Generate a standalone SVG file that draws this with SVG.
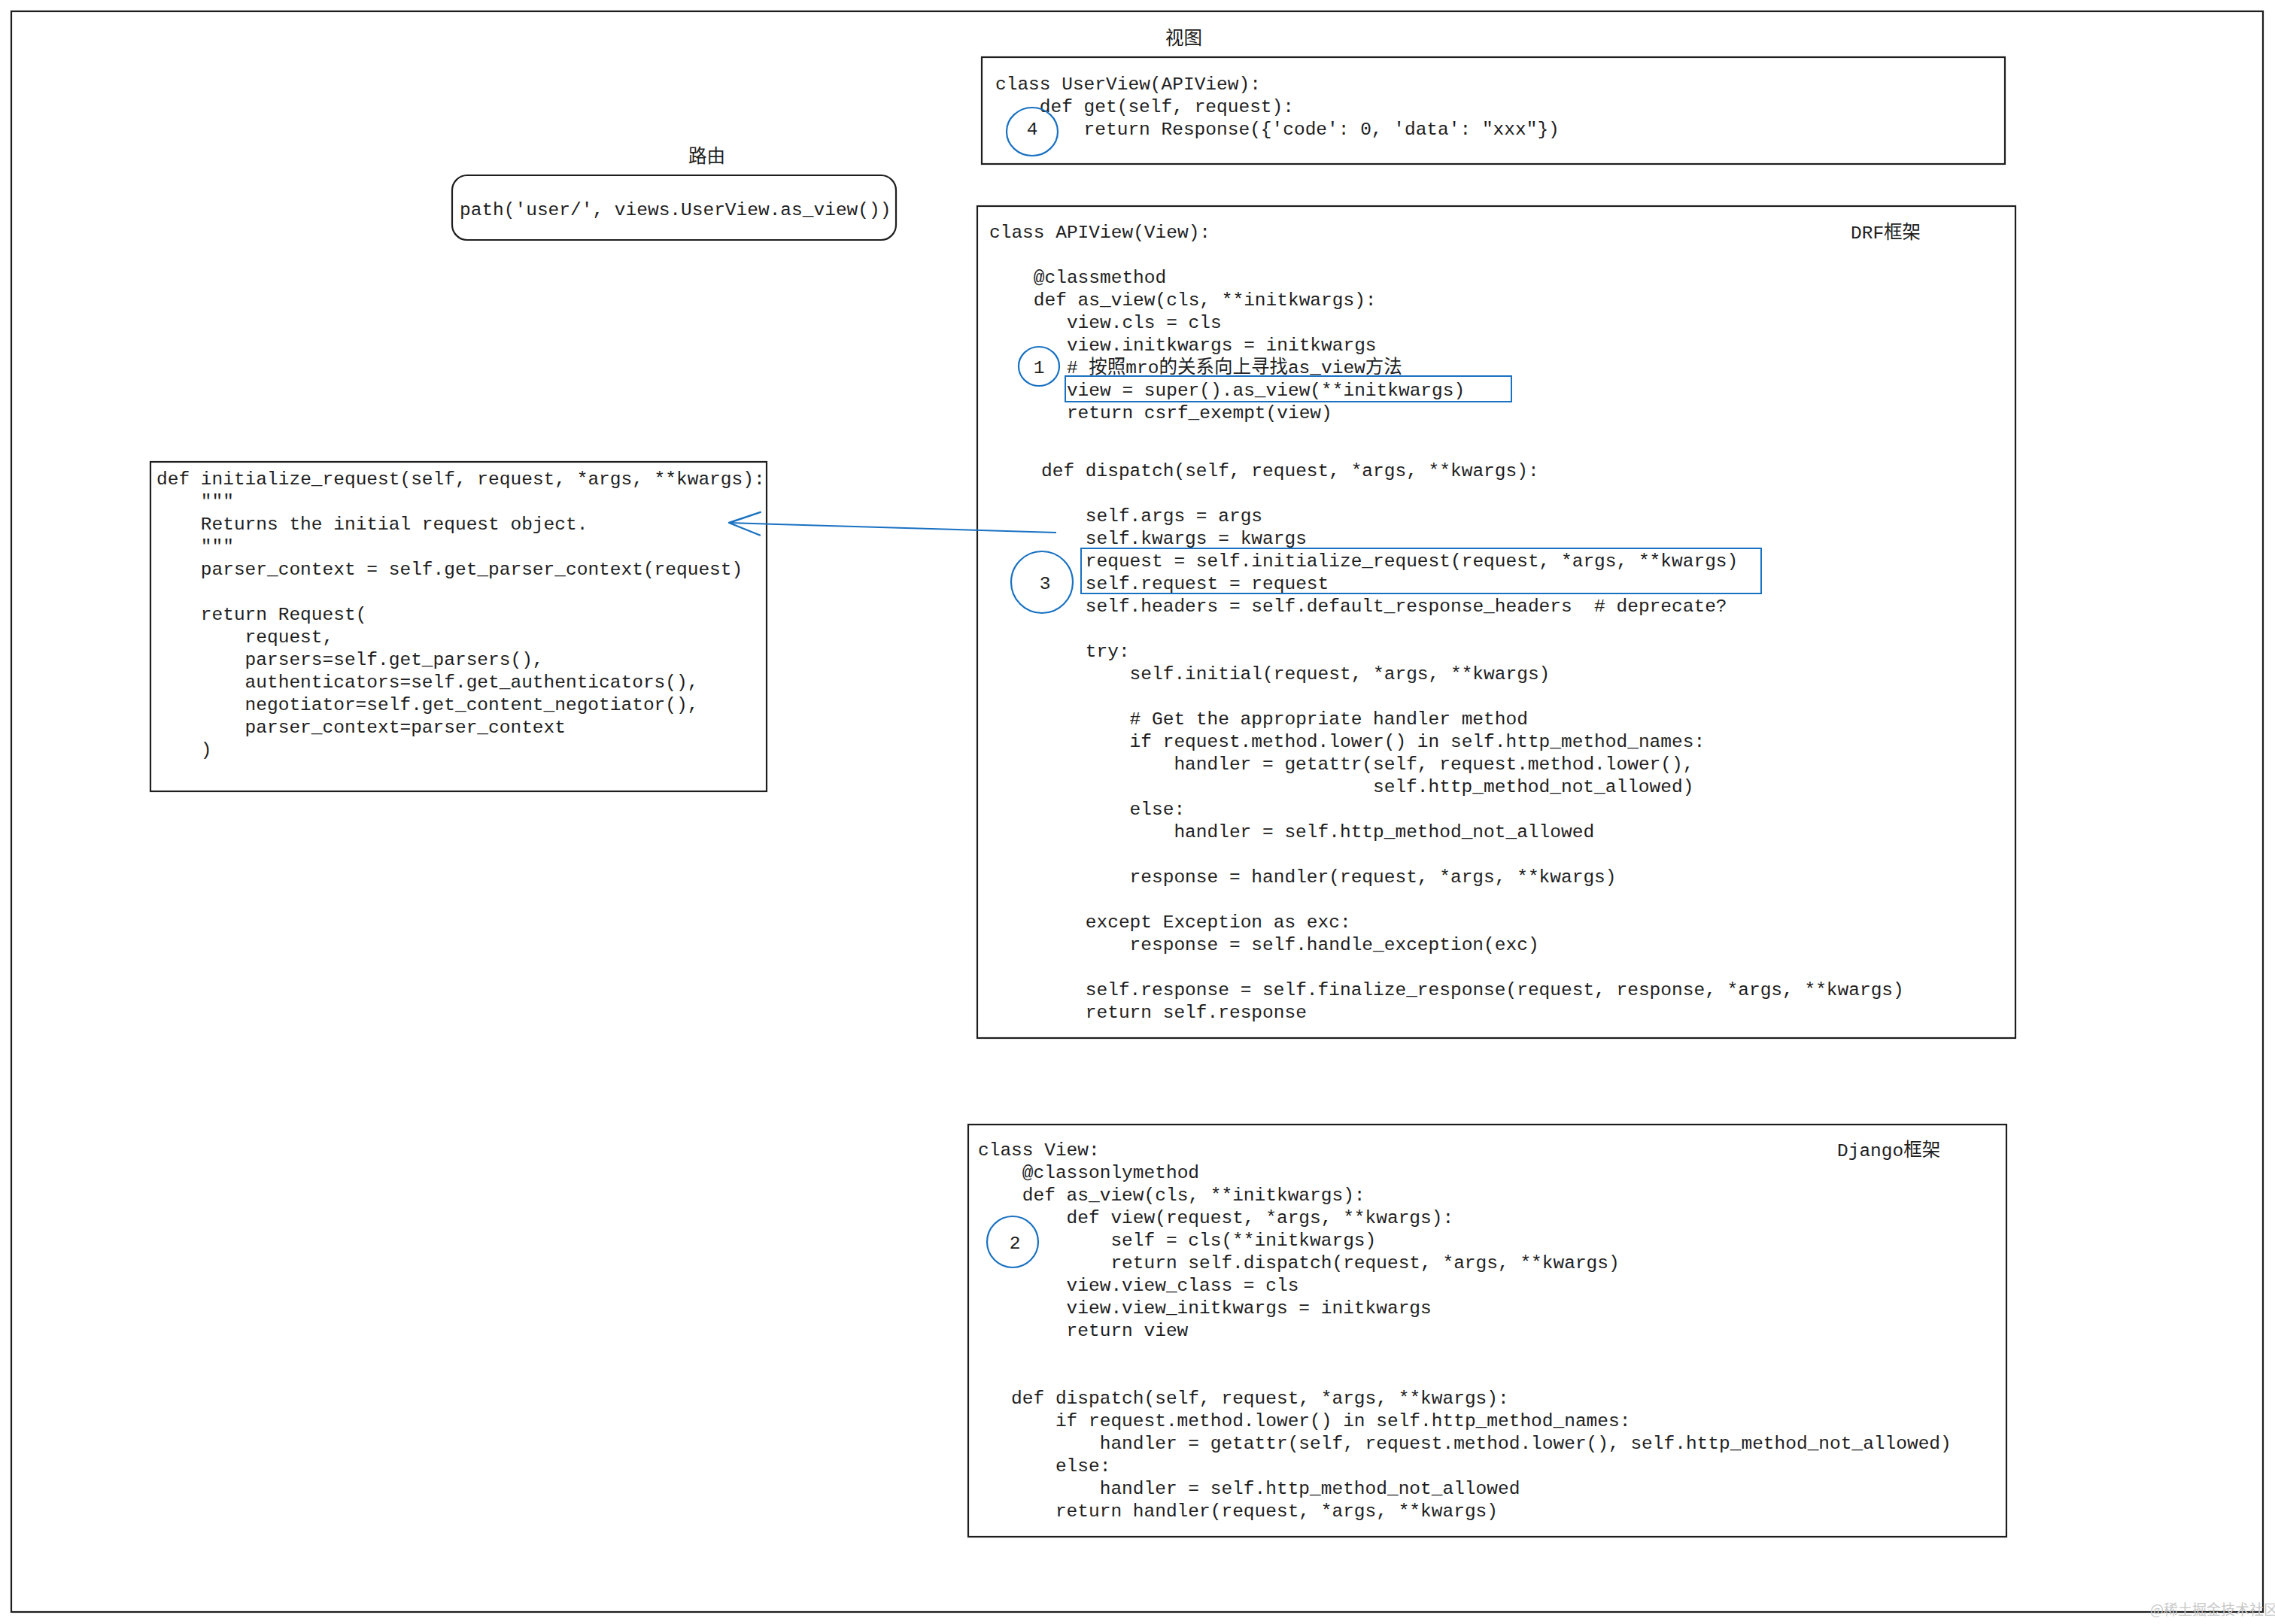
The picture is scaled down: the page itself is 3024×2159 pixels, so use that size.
<svg xmlns="http://www.w3.org/2000/svg" width="3024" height="2159" viewBox="0 0 3024 2159">
<style>
  .box { fill: none; stroke: #1e1e1e; stroke-width: 2.2; }
  .hl { fill: none; stroke: #1971c2; stroke-width: 2; }
  .num { fill: none; stroke: #1971c2; stroke-width: 2.2; }
  .code { font-family: "Liberation Mono", "Noto Sans CJK SC", monospace; font-size: 24.5px; fill: #1e1e1e; white-space: pre; }
  .mid { text-anchor: middle; }
  .wm { font-family: "Noto Sans CJK SC", sans-serif; font-size: 19px; fill: #c8c8c8; }
  .conn { fill: none; stroke: #1971c2; stroke-width: 2; }
</style>
<defs>
  <marker id="open" markerUnits="userSpaceOnUse" markerWidth="60" markerHeight="60" viewBox="-45 -25 55 50" refX="0" refY="0" orient="auto">
    <path d="M -38 -14 L 0 0 L -38 14" fill="none" stroke="#1971c2" stroke-width="2.2" stroke-linecap="round" stroke-linejoin="round"/>
  </marker>
</defs>
<rect width="3024" height="2159" fill="#ffffff"/>

<g id="frame">
  <rect class="box" x="15" y="15" width="2993" height="2128"/>
</g>

<g id="route">
  <text class="code" x="915" y="216">路由</text>
  <rect class="box" x="601" y="233" width="590" height="86" rx="20"/>
  <text class="code" x="611" y="286">path('user/', views.UserView.as_view())</text>
</g>

<g id="userview">
  <text class="code" x="1549" y="59">视图</text>
  <rect class="box" x="1305" y="76" width="1360" height="142"/>
  <text class="code" x="1323" y="119">class UserView(APIView):</text>
  <text class="code" x="1381.8" y="149">def get(self, request):</text>
  <text class="code" x="1440.6" y="179">return Response({'code': 0, 'data': "xxx"})</text>
  <ellipse class="num" cx="1372" cy="175" rx="34" ry="32"/>
  <text class="code mid" x="1372" y="179">4</text>
</g>

<g id="apiview">
  <rect class="box" x="1299" y="274" width="1380" height="1106"/>
  <text class="code" x="2460" y="317">DRF框架</text>
  <text class="code" x="1315" y="316">class APIView(View):</text>
  <text class="code" x="1373.8" y="376">@classmethod</text>
  <text class="code" x="1373.8" y="406">def as_view(cls, **initkwargs):</text>
  <text class="code" x="1417.9" y="436">view.cls = cls</text>
  <text class="code" x="1417.9" y="466">view.initkwargs = initkwargs</text>
  <text class="code" x="1417.9" y="496"># 按照mro的关系向上寻找as_view方法</text>
  <text class="code" x="1417.9" y="526">view = super().as_view(**initkwargs)</text>
  <text class="code" x="1417.9" y="556">return csrf_exempt(view)</text>
  <text class="code" x="1384" y="633">def dispatch(self, request, *args, **kwargs):</text>
  <text class="code" x="1442.8" y="693">self.args = args</text>
  <text class="code" x="1442.8" y="723">self.kwargs = kwargs</text>
  <text class="code" x="1442.8" y="753">request = self.initialize_request(request, *args, **kwargs)</text>
  <text class="code" x="1442.8" y="783">self.request = request</text>
  <text class="code" x="1442.8" y="813">self.headers = self.default_response_headers  # deprecate?</text>
  <text class="code" x="1442.8" y="873">try:</text>
  <text class="code" x="1501.6" y="903">self.initial(request, *args, **kwargs)</text>
  <text class="code" x="1501.6" y="963"># Get the appropriate handler method</text>
  <text class="code" x="1501.6" y="993">if request.method.lower() in self.http_method_names:</text>
  <text class="code" x="1560.4" y="1023">handler = getattr(self, request.method.lower(),</text>
  <text class="code" x="1825" y="1053">self.http_method_not_allowed)</text>
  <text class="code" x="1501.6" y="1083">else:</text>
  <text class="code" x="1560.4" y="1113">handler = self.http_method_not_allowed</text>
  <text class="code" x="1501.6" y="1173">response = handler(request, *args, **kwargs)</text>
  <text class="code" x="1442.8" y="1233">except Exception as exc:</text>
  <text class="code" x="1501.6" y="1263">response = self.handle_exception(exc)</text>
  <text class="code" x="1442.8" y="1323">self.response = self.finalize_response(request, response, *args, **kwargs)</text>
  <text class="code" x="1442.8" y="1353">return self.response</text>
  <rect class="hl" x="1416" y="500" width="593" height="34"/>
  <ellipse class="num" cx="1381" cy="487" rx="27" ry="26"/>
  <text class="code mid" x="1381" y="496">1</text>
  <rect class="hl" x="1437" y="729" width="904" height="60"/>
  <ellipse class="num" cx="1385" cy="774" rx="41" ry="41"/>
  <text class="code mid" x="1389" y="783">3</text>
</g>

<g id="initialize_request">
  <rect class="box" x="200" y="614" width="819" height="438"/>
  <text class="code" x="208" y="644">def initialize_request(self, request, *args, **kwargs):</text>
  <text class="code" x="266.8" y="674">"""</text>
  <text class="code" x="266.8" y="704">Returns the initial request object.</text>
  <text class="code" x="266.8" y="734">"""</text>
  <text class="code" x="266.8" y="764">parser_context = self.get_parser_context(request)</text>
  <text class="code" x="266.8" y="824">return Request(</text>
  <text class="code" x="325.6" y="854">request,</text>
  <text class="code" x="325.6" y="884">parsers=self.get_parsers(),</text>
  <text class="code" x="325.6" y="914">authenticators=self.get_authenticators(),</text>
  <text class="code" x="325.6" y="944">negotiator=self.get_content_negotiator(),</text>
  <text class="code" x="325.6" y="974">parser_context=parser_context</text>
  <text class="code" x="266.8" y="1004">)</text>
</g>

<g id="djangoview">
  <rect class="box" x="1287" y="1495" width="1380" height="548"/>
  <text class="code" x="2442" y="1537">Django框架</text>
  <text class="code" x="1300" y="1536">class View:</text>
  <text class="code" x="1358.8" y="1566">@classonlymethod</text>
  <text class="code" x="1358.8" y="1596">def as_view(cls, **initkwargs):</text>
  <text class="code" x="1417.6" y="1626">def view(request, *args, **kwargs):</text>
  <text class="code" x="1476.4" y="1656">self = cls(**initkwargs)</text>
  <text class="code" x="1476.4" y="1686">return self.dispatch(request, *args, **kwargs)</text>
  <text class="code" x="1417.6" y="1716">view.view_class = cls</text>
  <text class="code" x="1417.6" y="1746">view.view_initkwargs = initkwargs</text>
  <text class="code" x="1417.6" y="1776">return view</text>
  <text class="code" x="1344.1" y="1866">def dispatch(self, request, *args, **kwargs):</text>
  <text class="code" x="1402.9" y="1896">if request.method.lower() in self.http_method_names:</text>
  <text class="code" x="1461.7" y="1926">handler = getattr(self, request.method.lower(), self.http_method_not_allowed)</text>
  <text class="code" x="1402.9" y="1956">else:</text>
  <text class="code" x="1461.7" y="1986">handler = self.http_method_not_allowed</text>
  <text class="code" x="1402.9" y="2016">return handler(request, *args, **kwargs)</text>
  <ellipse class="num" cx="1346" cy="1651" rx="34" ry="34"/>
  <text class="code mid" x="1349" y="1660">2</text>
</g>

<g id="connectors">
  <path class="conn" d="M 1404 708 L 969 695" marker-end="url(#open)"/>
</g>

<text class="wm" x="2858" y="2147">@稀土掘金技术社区</text>
</svg>
